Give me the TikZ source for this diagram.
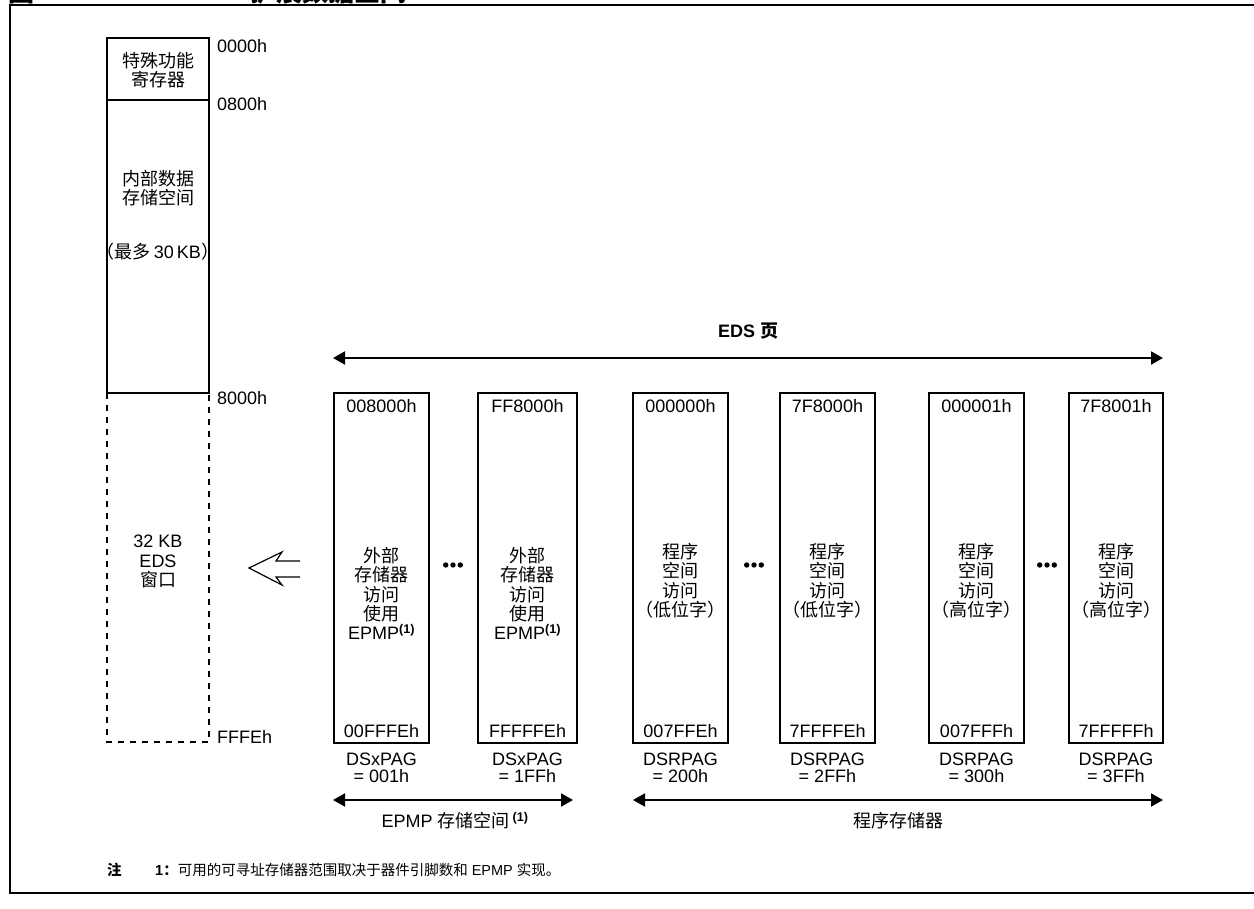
\documentclass[tikz,border=0pt]{standalone}
\usepackage{fontspec}
\setmainfont{Liberation Sans}
\newfontfamily\cjk{Noto Sans CJK SC}
\usetikzlibrary{arrows.meta}
\newcommand{\zh}[1]{{\cjk #1}}
\newcommand{\extmid}{\zh{外部}\\\zh{存储器}\\\zh{访问}\\\zh{使用}\\EPMP\textsuperscript{\bfseries(1)}}
\newcommand{\lowmid}{\zh{程序}\\\zh{空间}\\\zh{访问}\\\zh{（低位字）}}
\newcommand{\highmid}{\zh{程序}\\\zh{空间}\\\zh{访问}\\\zh{（高位字）}}
\begin{document}
\begin{tikzpicture}[x=1pt,y=-1pt,
  membox/.style={draw,line width=2.2pt},
  dashbox/.style={draw,line width=2pt,dash pattern=on 6pt off 6pt},
  lbl/.style={inner sep=0pt,font=\fontsize{18}{19.4}\selectfont,align=center},
  addr/.style={lbl,anchor=west},
  dblarrow/.style={line width=2pt,{Triangle[length=12pt,width=13pt]}-{Triangle[length=12pt,width=13pt]}},
  hollow/.style={line width=1.2pt,line join=miter}]
\useasboundingbox (0,0) rectangle (1254,909);
% frame and clipped title
\draw[line width=2pt] (1260,5) -- (10,5) -- (10,893) -- (1260,893);
\node[inner sep=0pt,anchor=base west,font=\fontsize{26}{26}\selectfont\bfseries] (t1) at (8,2) {\zh{图}};
\node[inner sep=0pt,anchor=base west,font=\fontsize{26}{26}\selectfont\bfseries] (t2) at (250,2) {\zh{扩展数据空间}};
% left column
\draw[membox] (107,38) rectangle (209,393);
\draw[membox] (107,100) -- (209,100);
\draw[dashbox] (107,393) -- (107,742) -- (209,742) -- (209,393);
\node[lbl,anchor=north] (sfr) at (158,52) {\zh{特殊功能}\\\zh{寄存器}};
\node[lbl,anchor=north] (ids) at (158,170) {\zh{内部数据}\\\zh{存储空间}};
\node[lbl] (max) at (158,252) {\zh{（最多}\,30\,KB\zh{）}};
\node[lbl,anchor=north] (win) at (158,535) {32 KB\\EDS\\\zh{窗口}};
\node[addr] (a0) at (217,46) {0000h};
\node[addr] (a1) at (217,104) {0800h};
\node[addr] (a2) at (217,398) {8000h};
\node[addr] (a3) at (217,737) {FFFEh};
% hollow arrow
\draw[hollow] (300,561) -- (276,561) -- (282,552) -- (249,568) -- (282,585) -- (276,577) -- (300,577);
% EDS pages
\node[lbl,font=\fontsize{18}{20}\selectfont\bfseries] (eds) at (748,331) {EDS \zh{页}};
\coordinate (eL) at (333,358);
\coordinate (eR) at (1163,358);
\draw[dblarrow] (eL) -- (eR);
\foreach \n/\xl/\xr/\ta/\ba/\pg/\pv/\midtxt/\mt in {
 1/334/429/008000h/00FFFEh/DSxPAG/001h/\extmid/547,
 2/478/577/FF8000h/FFFFFEh/DSxPAG/1FFh/\extmid/547,
 3/633/728/000000h/007FFEh/DSRPAG/200h/\lowmid/543,
 4/780/875/7F8000h/7FFFFEh/DSRPAG/2FFh/\lowmid/543,
 5/929/1024/000001h/007FFFh/DSRPAG/300h/\highmid/543,
 6/1069/1163/7F8001h/7FFFFFh/DSRPAG/3FFh/\highmid/543}{
  \pgfmathsetmacro\cx{(\xl+\xr)/2}
  \draw[membox] (\xl,393) rectangle (\xr,743);
  \node[lbl] (top\n) at (\cx,406) {\ta};
  \node[lbl] (bot\n) at (\cx,731) {\ba};
  \node[lbl,anchor=north] (mid\n) at (\cx,\mt) {\midtxt};
  \node[lbl,anchor=north,font=\fontsize{18}{17}\selectfont] (pg\n) at (\cx,753) {\pg\\= \pv};
}
% ellipsis dots
\foreach \c in {453,754,1047}{
  \foreach \d in {-7.3,0,7.3}{\fill (\c+\d,565) circle (2.7pt);}
}
% bottom ranges
\coordinate (pL) at (333,800);
\coordinate (pR) at (573,800);
\coordinate (qL) at (633,800);
\coordinate (qR) at (1163,800);
\draw[dblarrow] (pL) -- (pR);
\draw[dblarrow] (qL) -- (qR);
\node[lbl] (epmp) at (455,821) {EPMP \zh{存储空间}\,\textsuperscript{\bfseries(1)}};
\node[lbl] (prog) at (898,821) {\zh{程序存储器}};
% note
\node[inner sep=0pt,anchor=west,font=\fontsize{14.5}{16}\selectfont\bfseries] (nt) at (107,870) {\zh{注}};
\node[inner sep=0pt,anchor=west,font=\fontsize{14.5}{16}\selectfont] (nx) at (155,870) {{\bfseries 1\zh{：}}\zh{可用的可寻址存储器范围取决于器件引脚数和} EPMP \zh{实现。}};
\end{tikzpicture}
\end{document}
